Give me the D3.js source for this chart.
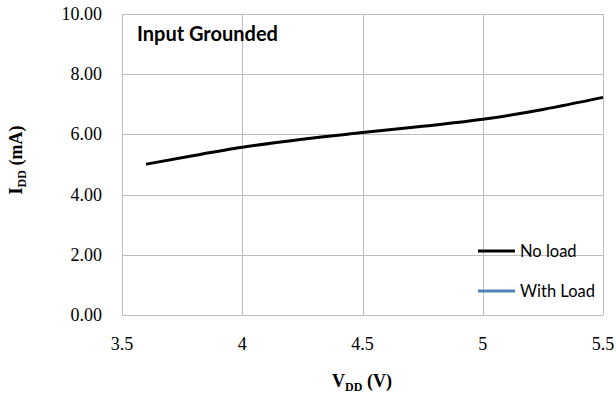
<!DOCTYPE html>
<html>
<head>
<meta charset="utf-8">
<script src="https://cdn.jsdelivr.net/npm/d3@7"></script>
<style>
  body { margin: 0; background: #fff; }
</style>
</head>
<body>
<div id="chart"></div>
<script>
// data
var vdd = [3.6, 3.8, 4.0, 4.25, 4.5, 4.75, 5.0, 5.25, 5.5];
var noLoad = [5.01, 5.30, 5.57, 5.84, 6.06, 6.27, 6.50, 6.83, 7.23];
var withLoad = []; // series shows only in the legend
var xTicks = [3.5, 4, 4.5, 5, 5.5];
var yTicks = [0, 2, 4, 6, 8, 10];
var seriesNames = ['No load', 'With Load'];
var seriesColors = ['#000000', '#4f81bd'];

var serif = "'Liberation Serif', 'Times New Roman', serif",
  sans = "Lato, 'Open Sans', sans-serif";

var w = 616,
  h = 394,
  m = { left: 122, right: 13, top: 14, bottom: 79 };

var svg = d3.select('#chart').append('svg')
  .attr('width', w)
  .attr('height', h);

var x = d3.scaleLinear().domain([3.5, 5.5]).range([m.left, w - m.right]);
var y = d3.scaleLinear().domain([0, 10]).range([h - m.bottom, m.top]);

// gridlines
svg.append('g').selectAll('line.h')
  .data(yTicks)
  .enter().append('line')
  .attr('x1', m.left).attr('x2', w - m.right)
  .attr('y1', function(d) { return Math.round(y(d)) + 0.5; })
  .attr('y2', function(d) { return Math.round(y(d)) + 0.5; })
  .attr('stroke', '#bfbfbf');

svg.append('g').selectAll('line.v')
  .data(xTicks)
  .enter().append('line')
  .attr('y1', m.top).attr('y2', h - m.bottom)
  .attr('x1', function(d) { return Math.round(x(d)) + 0.5; })
  .attr('x2', function(d) { return Math.round(x(d)) + 0.5; })
  .attr('stroke', '#bfbfbf');

// tick labels
svg.append('g').selectAll('text')
  .data(yTicks)
  .enter().append('text')
  .attr('x', 102)
  .attr('y', function(d) { return y(d) + 6; })
  .attr('text-anchor', 'end')
  .style('font-family', serif)
  .style('font-size', '18px')
  .text(function(d) { return d.toFixed(2); });

svg.append('g').selectAll('text')
  .data(xTicks)
  .enter().append('text')
  .attr('x', function(d) { return x(d); })
  .attr('y', 350)
  .attr('text-anchor', 'middle')
  .style('font-family', serif)
  .style('font-size', '18px')
  .text(function(d) { return d; });

// axis titles
var yl = svg.append('text')
  .attr('transform', 'translate(22,160) rotate(-90)')
  .attr('text-anchor', 'middle')
  .style('font-family', serif)
  .style('font-weight', 'bold')
  .style('font-size', '18px');
yl.append('tspan').text('I');
yl.append('tspan').style('font-size', '12px').attr('dy', 4).text('DD');
yl.append('tspan').attr('dy', -4).text(' (mA)');

var xl = svg.append('text')
  .attr('x', 362)
  .attr('y', 387)
  .attr('text-anchor', 'middle')
  .style('font-family', serif)
  .style('font-weight', 'bold')
  .style('font-size', '18px');
xl.append('tspan').text('V');
xl.append('tspan').style('font-size', '12px').attr('dy', 4).text('DD');
xl.append('tspan').attr('dy', -4).text(' (V)');

// chart title
svg.append('text')
  .attr('x', 137)
  .attr('y', 41)
  .style('font-family', sans)
  .style('font-weight', 'bold')
  .style('font-size', '20px')
  .text('Input Grounded');

// curves
var line = d3.line()
  .x(function(d) { return x(d[0]); })
  .y(function(d) { return y(d[1]); })
  .curve(d3.curveMonotoneX);

svg.append('path')
  .datum(d3.zip(vdd, noLoad))
  .attr('d', line)
  .attr('fill', 'none')
  .attr('stroke', seriesColors[0])
  .attr('stroke-width', 3);

if (withLoad.length) {
  svg.append('path')
    .datum(d3.zip(vdd, withLoad))
    .attr('d', line)
    .attr('fill', 'none')
    .attr('stroke', seriesColors[1])
    .attr('stroke-width', 3);
}

// legend
var legend = svg.append('g').selectAll('g')
  .data(seriesNames)
  .enter().append('g')
  .attr('transform', function(d, i) { return 'translate(478,' + (251 + i * 40) + ')'; });

legend.append('line')
  .attr('x1', 0).attr('x2', 37)
  .attr('stroke', function(d, i) { return seriesColors[i]; })
  .attr('stroke-width', 3);

legend.append('text')
  .attr('x', 42)
  .attr('y', 6)
  .style('font-family', sans)
  .style('font-size', '16.5px')
  .text(function(d) { return d; });
</script>
</body>
</html>
